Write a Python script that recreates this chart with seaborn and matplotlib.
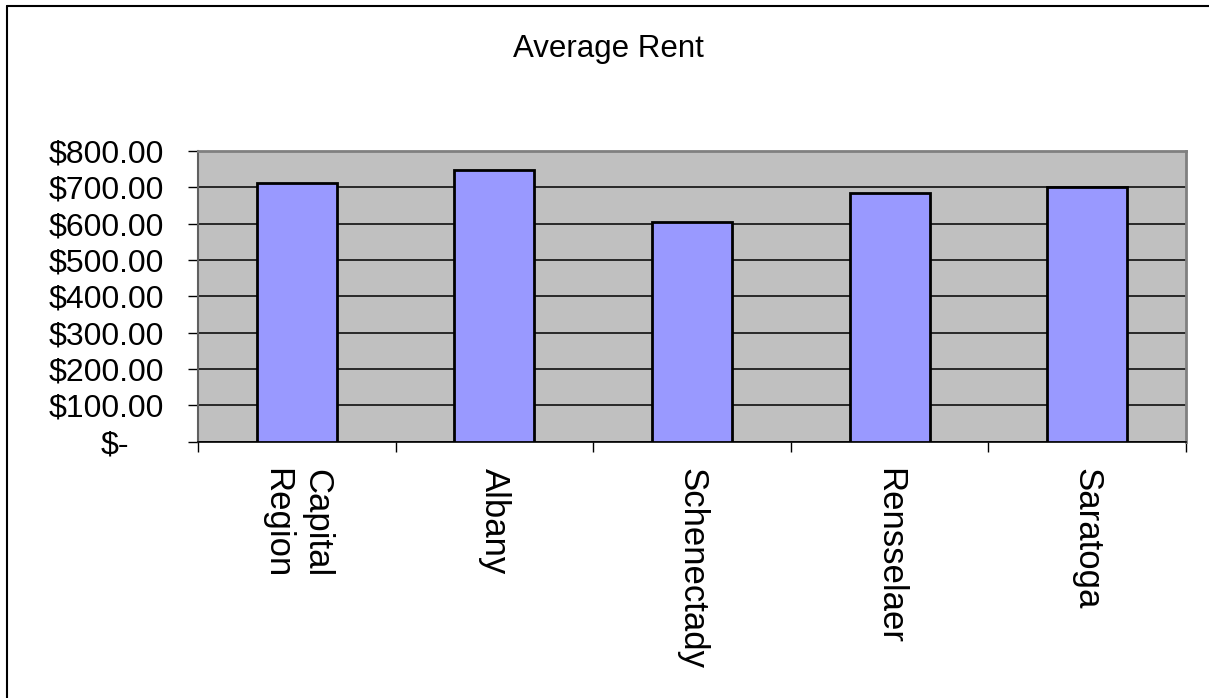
import matplotlib
matplotlib.use("Agg")
import matplotlib.pyplot as plt
import matplotlib.transforms as mtransforms
from matplotlib.lines import Line2D
import seaborn as sns
import pandas as pd

regions = ["Capital\nRegion", "Albany", "Schenectady", "Rensselaer", "Saratoga"]
avg_rent = [713, 748, 605, 685, 700]
y_ticks = [0, 100, 200, 300, 400, 500, 600, 700, 800]
y_tick_labels = ["$-", "$100.00", "$200.00", "$300.00", "$400.00",
                 "$500.00", "$600.00", "$700.00", "$800.00"]
title = "Average Rent"

df = pd.DataFrame({"region": regions, "rent": avg_rent})

sns.set_style("white")
plt.rcParams["font.family"] = ["Liberation Sans", "DejaVu Sans"]
plt.rcParams["text.color"] = "black"
plt.rcParams["xtick.color"] = "black"
plt.rcParams["ytick.color"] = "black"

fig = plt.figure(figsize=(12.09, 6.98), dpi=100)
ax = fig.add_axes([198 / 1209, 1 - 441.7 / 698, (1186 - 198) / 1209, (441.7 - 151) / 698])
ax.set_facecolor("#C0C0C0")

sns.barplot(data=df, x="region", y="rent", ax=ax, color="#9999FF",
            saturation=1, width=0.405, edgecolor="black", linewidth=2, zorder=3)

ax.set_xlim(-0.5, len(regions) - 0.5)
ax.set_ylim(0, 800)
ax.set_yticks(y_ticks)
ax.set_yticklabels(y_tick_labels, fontsize=23, color="black")
ax.yaxis.grid(True, color="black", linewidth=1.1, zorder=1)
ax.set_axisbelow(True)
ax.set_xlabel("")
ax.set_ylabel("")

# category labels at bar centres, tick marks at category boundaries
ax.set_xticks(range(len(regions)))
ax.set_xticklabels(regions, rotation=270, fontsize=25, ha="center", va="top",
                   color="black", linespacing=1.3)
ax.set_xticks([i - 0.5 for i in range(len(regions) + 1)], minor=True)
ax.tick_params(axis="x", which="major", length=0, pad=19)
ax.tick_params(axis="x", which="minor", length=7.5, width=1, color="black",
               direction="out", bottom=True)
ax.tick_params(axis="y", which="major", length=7.5, width=1, color="black",
               direction="out", left=True, pad=17)

# shift the zero label like accounting format
zero_lbl = ax.get_yticklabels()[0]
zero_lbl.set_transform(zero_lbl.get_transform() +
                       mtransforms.ScaledTranslation(-35 / 100, 0, fig.dpi_scale_trans))

for side in ["top", "right"]:
    ax.spines[side].set_color("#808080")
    ax.spines[side].set_linewidth(2)
ax.spines["left"].set_color("#606060")
ax.spines["left"].set_linewidth(1.5)
ax.spines["bottom"].set_color("black")
ax.spines["bottom"].set_linewidth(1.2)

fig.text(608 / 1209, 1 - 57 / 698, title, ha="center", va="baseline",
         fontsize=22.5, color="black")

# outer chart frame
fig.add_artist(Line2D([7 / 1209, 7 / 1209], [0, 1 - 6 / 698], color="black",
                      linewidth=1.5, transform=fig.transFigure))
fig.add_artist(Line2D([7 / 1209, 1], [1 - 6 / 698, 1 - 6 / 698], color="black",
                      linewidth=1.5, transform=fig.transFigure))

fig.savefig("out.png", dpi=100, facecolor="white")
